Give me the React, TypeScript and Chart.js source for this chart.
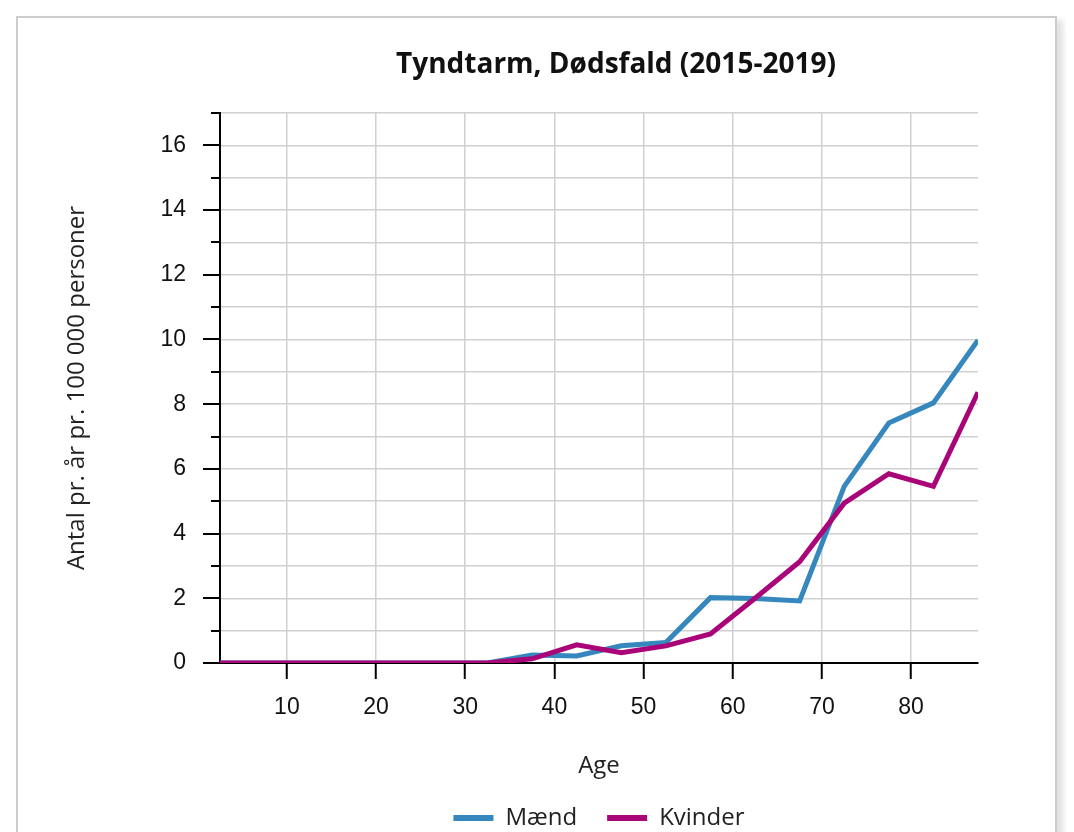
import React, { useEffect, useRef } from 'react';
import { Chart, registerables } from 'chart.js';

Chart.register(...registerables);

const TITLE = 'Tyndtarm, Dødsfald (2015-2019)';
const X_TITLE = 'Age';
const Y_TITLE = 'Antal pr. år pr. 100 000 personer';
const SERIES_NAMES = ['Mænd', 'Kvinder'];
const SERIES_COLORS = ['#3587bd', '#aa0479'];

const AGES = [2.5, 7.5, 12.5, 17.5, 22.5, 27.5, 32.5, 37.5, 42.5, 47.5, 52.5, 57.5, 62.5, 67.5, 72.5, 77.5, 82.5, 87.5];
const MAEND = [0, 0, 0, 0, 0, 0, 0, 0.25, 0.22, 0.53, 0.63, 2.02, 1.99, 1.92, 5.46, 7.42, 8.04, 9.98];
const KVINDER = [0, 0, 0, 0, 0, 0, 0, 0.13, 0.56, 0.32, 0.53, 0.9, 2.0, 3.13, 4.94, 5.85, 5.46, 8.37];

const X_MIN = 2.5;
const X_MAX = 87.5;
const X_STEP = 10;
const Y_MIN = 0;
const Y_MAX = 17;
const Y_STEP = 1;
const Y_LABEL_EVERY = 2;

const AXIS_FONT = '"Liberation Sans", Arial, sans-serif';
const TEXT_FONT = '"Open Sans", "Noto Sans", sans-serif';

const titlePlugin = {
  id: 'customTitle',
  afterDraw(chart: any) {
    const { ctx, chartArea } = chart;
    ctx.save();
    ctx.font = `bold 28px ${TEXT_FONT}`;
    ctx.fillStyle = '#111';
    ctx.textAlign = 'center';
    ctx.textBaseline = 'alphabetic';
    ctx.fillText(TITLE, (chartArea.left + chartArea.right) / 2 + 17, 55);
    ctx.restore();
  },
};

const yTickMarksPlugin = {
  id: 'yTickMarks',
  afterDraw(chart: any) {
    const { ctx, chartArea } = chart;
    const y = chart.scales.y;
    ctx.save();
    ctx.strokeStyle = '#000';
    ctx.lineWidth = 2;
    y.ticks.forEach((t: any) => {
      const py = Math.round(y.getPixelForValue(t.value));
      const len = t.value % Y_LABEL_EVERY === 0 ? 17 : 9;
      ctx.beginPath();
      ctx.moveTo(chartArea.left - len, py);
      ctx.lineTo(chartArea.left, py);
      ctx.stroke();
    });
    ctx.restore();
  },
};

export default function App() {
  const canvasRef = useRef<HTMLCanvasElement | null>(null);

  useEffect(() => {
    if (!canvasRef.current) return;
    const series = [MAEND, KVINDER];
    const chart = new Chart(canvasRef.current, {
      type: 'line',
      data: {
        datasets: series.map((vals, i) => ({
          label: SERIES_NAMES[i],
          data: AGES.map((a, j) => ({ x: a, y: vals[j] })),
          borderColor: SERIES_COLORS[i],
          backgroundColor: SERIES_COLORS[i],
          borderWidth: 5,
          pointRadius: 0,
          pointHoverRadius: 0,
          tension: 0,
          fill: false,
          clip: 0,
          order: i === 0 ? 2 : 1,
        })),
      },
      options: {
        animation: false,
        responsive: false,
        maintainAspectRatio: false,
        layout: { padding: { left: 0, right: 77, top: 95, bottom: 8 } },
        scales: {
          x: {
            type: 'linear',
            min: X_MIN,
            max: X_MAX,
            afterFit: (scale: any) => {
              scale.height = 113;
            },
            ticks: {
              stepSize: X_STEP,
              includeBounds: false,
              autoSkip: false,
              maxRotation: 0,
              padding: 15,
              color: '#111',
              font: { family: AXIS_FONT, size: 23 },
            },
            grid: {
              color: '#d0d0d0',
              lineWidth: 1.5,
              tickColor: '#000',
              tickWidth: 2,
              tickLength: 16,
            },
            border: { display: true, color: '#000', width: 2 },
            title: {
              display: true,
              text: X_TITLE,
              color: '#222',
              font: { family: TEXT_FONT, size: 24 },
              padding: { top: 0, bottom: -5 },
            },
          },
          y: {
            type: 'linear',
            min: Y_MIN,
            max: Y_MAX,
            afterFit: (scale: any) => {
              scale.width = 202;
            },
            ticks: {
              stepSize: Y_STEP,
              autoSkip: false,
              padding: 17,
              color: '#111',
              font: { family: AXIS_FONT, size: 23 },
              callback: (v: any) => (Number(v) % Y_LABEL_EVERY === 0 ? String(v) : ''),
            },
            grid: {
              color: '#d0d0d0',
              lineWidth: 1.5,
              tickColor: 'rgba(0,0,0,0)',
              tickLength: 17,
            },
            border: { display: true, color: '#000', width: 2 },
            title: {
              display: true,
              text: Y_TITLE,
              color: '#222',
              font: { family: TEXT_FONT, size: 24 },
              padding: { top: 45, bottom: 0 },
            },
          },
        },
        plugins: {
          title: { display: false },
          tooltip: { enabled: false },
          legend: {
            display: true,
            position: 'bottom',
            fullSize: false,
            labels: {
              color: '#222',
              font: { family: TEXT_FONT, size: 24 },
              boxWidth: 40,
              boxHeight: 6,
              padding: 30,
              sort: (a: any, b: any) => a.datasetIndex - b.datasetIndex,
              generateLabels: (c: any) =>
                (Chart as any).defaults.plugins.legend.labels
                  .generateLabels(c)
                  .map((l: any) => ({ ...l, fillStyle: l.strokeStyle, lineWidth: 0 })),
            },
          },
        },
      },
      plugins: [titlePlugin, yTickMarksPlugin],
    });
    return () => chart.destroy();
  }, []);

  return (
    <div style={{ padding: 8 }}>
      <style>{`html, body { overflow: hidden; }`}</style>
      <div
        style={{
          width: 1037,
          height: 830,
          border: '2px solid #cccccc',
          boxShadow: '6px 4px 6px rgba(0,0,0,0.12)',
          background: '#fff',
        }}
      >
        <canvas ref={canvasRef} width={1037} height={830} style={{ display: 'block' }} />
      </div>
    </div>
  );
}
